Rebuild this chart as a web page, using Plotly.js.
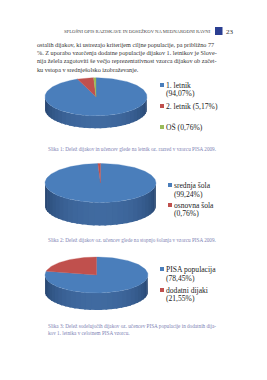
<!DOCTYPE html>
<html>
<head>
<meta charset="utf-8">
<script src="https://cdn.plot.ly/plotly-3.0.1.min.js"></script>
<style>
html,body{margin:0;padding:0;background:#fff;}
#chart{width:267px;height:380px;}
</style>
</head>
<body>
<div id="chart"></div>
<script>
// ---- data ----
const chart1Labels = ['1. letnik', '2. letnik', 'OŠ'];
const chart1Values = [94.07, 5.17, 0.76];
const chart2Labels = ['srednja šola', 'osnovna šola'];
const chart2Values = [99.24, 0.76];
const chart3Labels = ['PISA populacija', 'dodatni dijaki'];
const chart3Values = [78.45, 21.55];

const headerText = 'SPLOŠNI OPIS RAZISKAVE IN DOSEŽKOV NA MEDNARODNI RAVNI';
const pageNumber = '23';
const bodyLines = [
  'ostalih dijakov, ki ustrezajo kriterijem ciljne populacije, pa približno 77',
  '%. Z uporabo vzorčenja dodatne populacije dijakov 1. letnikov je Slove-',
  'nija želela zagotoviti še večjo reprezentativnost vzorca dijakov ob začet-',
  'ku vstopa v srednješolsko izobraževanje.'
];
const caption1 = ['Slika 1: Delež dijakov in učencev glede na letnik oz. razred v vzorcu PISA 2009.'];
const caption2 = ['Slika 2: Delež dijakov oz. učencev glede na stopnjo šolanja v vzorcu PISA 2009.'];
const caption3 = ['Slika 3: Delež sodelujočih dijakov oz. učencev PISA populacije in dodatnih dija-',
                  'kov 1. letnika v celotnem PISA vzorcu.'];

// ---- styles / geometry ----
const faceColors = ['#4a7ebb', '#c0504d', '#9bbb59'];
const sideDark = [[30, 58, 98], [110, 40, 38], [90, 110, 50]];
const sideLight = [[64, 106, 160], [170, 70, 66], [130, 160, 80]];
const serif = 'Liberation Serif, Times New Roman, serif';

const charts = [
  {labels: chart1Labels, values: chart1Values, cx: 96, cy: 96.8, rx: 51, ry: 19, depth: 12.5,
   legend: {x: 162, rows: [[85, 93], [106], [127]], wrap: [true, false, false]},
   caption: caption1, capY: 149},
  {labels: chart2Labels, values: chart2Values, cx: 100.5, cy: 183, rx: 55.5, ry: 19.5, depth: 23,
   legend: {x: 170, rows: [[185, 194], [205, 213]], wrap: [true, true]},
   caption: caption2, capY: 240},
  {labels: chart3Labels, values: chart3Values, cx: 96.5, cy: 275, rx: 51.5, ry: 18, depth: 17,
   legend: {x: 162, rows: [[269, 278], [290, 298]], wrap: [true, true]},
   caption: caption3, capY: 326}
];

const traces = [];
const annotations = [];
const shapes = [];
const DEG = Math.PI / 180;

function fmt(v) { return '(' + v.toFixed(2).replace('.', ',') + '%)'; }
function pt(c, t) { return [c.cx + c.rx * Math.sin(t), c.cy - c.ry * Math.cos(t)]; }
function rgb(a) { return 'rgb(' + a.map(Math.round).join(',') + ')'; }

charts.forEach((c) => {
  const total = c.values.reduce((a, b) => a + b, 0);
  const bounds = [];
  let acc = 0;
  c.values.forEach((v) => { bounds.push([acc / total * 360, (acc + v) / total * 360]); acc += v; });

  // side (front half of the cylinder): one solid base, then shaded strips that overlap
  const N = 30;
  for (let i = 0; i < N; i++) {
    const a0 = 90 + 180 * i / N, a1 = Math.min(270, 90 + 180 * (i + 1) / N + 2);
    const mid = 90 + 180 * (i + 0.5) / N;
    let si = bounds.findIndex(b => mid >= b[0] && mid < b[1]);
    if (si < 0) si = 0;
    const w = Math.pow(Math.sin((mid - 90) * DEG), 0.8);
    const col = sideDark[si].map((d, k) => d + (sideLight[si][k] - d) * w);
    const xs = [], ys = [];
    for (let j = 0; j <= 6; j++) { const p = pt(c, (a0 + (a1 - a0) * j / 6) * DEG); xs.push(p[0]); ys.push(p[1]); }
    for (let j = 6; j >= 0; j--) { const p = pt(c, (a0 + (a1 - a0) * j / 6) * DEG); xs.push(p[0]); ys.push(p[1] + c.depth); }
    traces.push({type: 'scatter', mode: 'lines', x: xs, y: ys, fill: 'toself', fillcolor: rgb(col),
      line: {width: 0}, hoverinfo: 'skip', showlegend: false});
  }

  // top faces
  bounds.forEach((b, si) => {
    const xs = [c.cx], ys = [c.cy];
    const steps = Math.max(2, Math.ceil((b[1] - b[0]) / 2));
    for (let j = 0; j <= steps; j++) {
      const p = pt(c, (b[0] + (b[1] - b[0]) * j / steps) * DEG);
      xs.push(p[0]); ys.push(p[1]);
    }
    xs.push(c.cx); ys.push(c.cy);
    traces.push({type: 'scatter', mode: 'lines', x: xs, y: ys, fill: 'toself', fillcolor: faceColors[si],
      line: {color: faceColors[si], width: 0.3}, hoverinfo: 'skip', showlegend: false});
  });

  // legend
  c.labels.forEach((lab, si) => {
    const rows = c.legend.rows[si];
    traces.push({type: 'scatter', mode: 'markers', x: [c.legend.x], y: [rows[0]],
      marker: {symbol: 'square', size: 4, color: faceColors[si]}, hoverinfo: 'skip', showlegend: false});
    const lines = c.legend.wrap[si] ? [lab, fmt(c.values[si])] : [lab + ' ' + fmt(c.values[si])];
    lines.forEach((t, k) => {
      annotations.push({x: c.legend.x + 2.5, y: rows[k], xref: 'x', yref: 'y', text: t, showarrow: false,
        xanchor: 'left', yanchor: 'middle', borderpad: 0,
        font: {family: serif, size: 7.6, color: '#222'}});
    });
  });

  // caption
  c.caption.forEach((t, k) => {
    annotations.push({x: 47, y: c.capY + k * 7, xref: 'x', yref: 'y', text: t, showarrow: false,
      xanchor: 'left', yanchor: 'middle', borderpad: 0,
      font: {family: serif, size: 5.2, color: '#7d82b3'}});
  });
});

// header
annotations.push({x: 212, y: 31.5, xref: 'x', yref: 'y', text: headerText, showarrow: false,
  xanchor: 'right', yanchor: 'middle', borderpad: 0, font: {family: serif, size: 4.7, color: '#444'}});
annotations.push({x: 225, y: 32, xref: 'x', yref: 'y', text: pageNumber, showarrow: false,
  xanchor: 'left', yanchor: 'middle', borderpad: 0, font: {family: serif, size: 7, color: '#333'}});
shapes.push({type: 'rect', xref: 'x', yref: 'y', x0: 215, x1: 222.5, y0: 27, y1: 35,
  fillcolor: '#2b3f92', line: {width: 0}});

// body
bodyLines.forEach((t, k) => {
  annotations.push({x: 36, y: 44.5 + k * 8.2, xref: 'x', yref: 'y', text: t, showarrow: false,
    xanchor: 'left', yanchor: 'middle', borderpad: 0, font: {family: serif, size: 6.2, color: '#333'}});
});

const layout = {
  width: 267, height: 380,
  margin: {l: 0, r: 0, t: 0, b: 0},
  paper_bgcolor: '#fff', plot_bgcolor: '#fff',
  xaxis: {range: [0, 267], visible: false, fixedrange: true},
  yaxis: {range: [380, 0], visible: false, fixedrange: true},
  showlegend: false,
  annotations: annotations,
  shapes: shapes
};

Plotly.newPlot('chart', traces, layout, {staticPlot: true, displayModeBar: false});
</script>
</body>
</html>
